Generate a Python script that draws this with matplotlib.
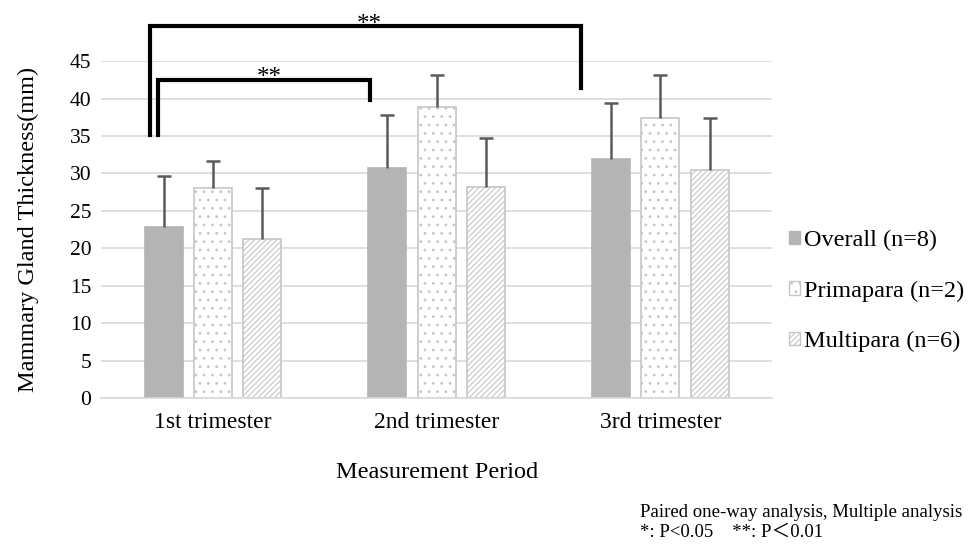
import numpy as np
import matplotlib.pyplot as plt
from matplotlib.patches import Patch

plt.rcParams['font.family'] = ['Liberation Serif', 'Noto Sans CJK JP']
plt.rcParams['hatch.linewidth'] = 0.8

# datos
periodos = ['1st trimester', '2nd trimester', '3rd trimester']
series = ['Overall (n=8)', 'Primapara (n=2)', 'Multipara (n=6)']
media_total = [22.8, 30.7, 32.0]
media_primi = [28.0, 38.9, 37.4]
media_multi = [21.2, 28.2, 30.4]
de_total = [6.8, 7.1, 7.4]
de_primi = [3.6, 4.2, 5.7]
de_multi = [6.8, 6.6, 7.0]

fig = plt.figure(figsize=(9.73, 5.45), dpi=100)
ax = fig.add_axes([0.1038, 0.2697, 0.690, 0.618])

x = np.arange(len(periodos))
ancho = 0.17
paso = 0.22
gris_borde = '#c6c6c6'
estilos = [dict(color='#b4b4b4', edgecolor='#b4b4b4', hatch=None),
           dict(color='white', edgecolor=gris_borde, hatch='..'),
           dict(color='white', edgecolor=gris_borde, hatch='//////')]
medias = [media_total, media_primi, media_multi]
errores = [de_total, de_primi, de_multi]

for i in range(3):
    pos = x + (i - 1) * paso
    ax.bar(pos, medias[i], ancho, facecolor=estilos[i]['color'],
           edgecolor=estilos[i]['edgecolor'], hatch=estilos[i]['hatch'],
           linewidth=1.2, zorder=2)
    eb = ax.errorbar(pos, medias[i], yerr=[np.zeros(3), errores[i]], fmt='none',
                     ecolor='#5a5a5a', elinewidth=1.8, capsize=5, capthick=1.8, zorder=3)
    eb[1][0].set_visible(False)  # sin tapa abajo

ax.set_xlim(-0.5, 2.5)
ax.set_ylim(0, 45)
ax.set_yticks(np.arange(0, 46, 5))
ax.set_xticks(x)
ax.set_xticklabels(periodos, fontsize=17)
ax.tick_params(axis='y', labelsize=15.5, length=0, pad=7)
ax.tick_params(axis='x', length=0, pad=10)
ax.grid(axis='y', color='#d9d9d9', linewidth=1.2, zorder=0)
ax.set_axisbelow(True)
for lado in ['top', 'right', 'left']:
    ax.spines[lado].set_visible(False)
ax.spines['bottom'].set_color('#d9d9d9')
ax.spines['bottom'].set_linewidth(1.2)

ax.set_ylabel('Mammary Gland Thickness(mm)', fontsize=17.5, labelpad=22)
ax.set_xlabel('Measurement Period', fontsize=17.5, labelpad=21)

# corchetes de significancia
ax.plot([-0.28, -0.28, 1.647, 1.647], [35.1, 49.7, 49.7, 41.4], color='black',
        lw=3, clip_on=False, solid_joinstyle='miter')
ax.plot([-0.245, -0.245, 0.70, 0.70], [35.1, 42.5, 42.5, 39.8], color='black',
        lw=3, clip_on=False, solid_joinstyle='miter')
ax.text(0.70, 49.1, '**', ha='center', va='baseline', fontsize=18, clip_on=False)
ax.text(0.25, 42.0, '**', ha='center', va='baseline', fontsize=18, clip_on=False)

manejadores = [Patch(facecolor=estilos[i]['color'], edgecolor=estilos[i]['edgecolor'],
                     hatch=estilos[i]['hatch']) for i in range(3)]
ax.legend(manejadores, series, loc='center left', bbox_to_anchor=(1.025, 0.3175),
          frameon=False, fontsize=17.5, handlelength=0.45, handleheight=0.45,
          handletextpad=0.15, labelspacing=1.2, borderaxespad=0.0, borderpad=0.0)

fig.text(0.658, 0.008, 'Paired one-way analysis, Multiple analysis\n*: P<0.05    **: P＜0.01',
         fontsize=13.5, ha='left', va='bottom', linespacing=1.2)

fig.savefig('out.png', dpi=100)
